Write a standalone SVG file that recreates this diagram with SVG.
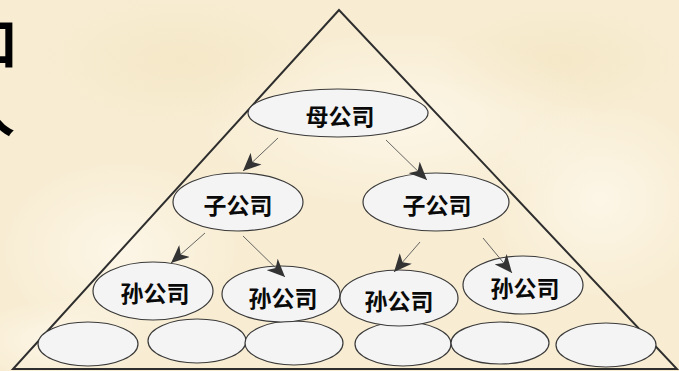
<svg xmlns="http://www.w3.org/2000/svg" width="679" height="371" viewBox="0 0 679 371">
<defs>
<style>
.node ellipse{fill:#f4f4f4;stroke:#3a3a3a;stroke-width:1.2}
.lbl{font-family:"Noto Sans CJK SC","Noto Sans",sans-serif;font-size:23px;fill:#0a0a0a;text-anchor:middle;dominant-baseline:central;font-weight:bold}
.conn line{stroke:#555;stroke-width:0.9;marker-end:url(#ah)}
.frag{font-family:"Noto Sans CJK SC",sans-serif;font-size:54px;font-weight:bold;fill:#000}
</style>
<marker id="ah" markerUnits="userSpaceOnUse" markerWidth="20" markerHeight="16" viewBox="0 0 20 16" refX="18" refY="8" orient="auto">
<path d="M0,0 L18,8 L0,16 L5,8 z" fill="#333"/>
</marker>
<radialGradient id="spot" cx="0.5" cy="0.5" r="0.5">
<stop offset="0" stop-color="#fffaf0" stop-opacity="0.7"/>
<stop offset="1" stop-color="#fffaf0" stop-opacity="0"/>
</radialGradient>
<radialGradient id="dark" cx="0.5" cy="0.5" r="0.5">
<stop offset="0" stop-color="#f0dfb5" stop-opacity="0.35"/>
<stop offset="1" stop-color="#f0dfb5" stop-opacity="0"/>
</radialGradient>
</defs>
<rect width="679" height="371" fill="#f8edd3"/>
<ellipse cx="400" cy="120" rx="200" ry="90" fill="url(#spot)"/>
<ellipse cx="120" cy="250" rx="120" ry="90" fill="url(#spot)"/>
<ellipse cx="600" cy="200" rx="110" ry="100" fill="url(#spot)"/>
<ellipse cx="180" cy="60" rx="150" ry="70" fill="url(#dark)"/>
<ellipse cx="560" cy="60" rx="130" ry="60" fill="url(#dark)"/>
<ellipse cx="60" cy="340" rx="90" ry="40" fill="url(#spot)"/>

<text class="frag" x="-36" y="64">口</text>
<text class="frag" x="-39" y="132">人</text>

<g id="pyramid">
<path d="M339,10 L13,369 L677,369 Z" fill="none" stroke="#2e2e2e" stroke-width="2"/>
</g>

<g id="bottom-row" class="node">
<ellipse cx="88" cy="344" rx="50" ry="22"/>
<ellipse cx="197" cy="341" rx="49" ry="22"/>
<ellipse cx="294" cy="343" rx="49" ry="22"/>
<ellipse cx="403" cy="344" rx="48" ry="22"/>
<ellipse cx="500" cy="343" rx="49" ry="21"/>
<ellipse cx="606" cy="345" rx="50" ry="22"/>
</g>

<g id="parent" class="node">
<ellipse cx="338" cy="113" rx="90" ry="24"/>
<text class="lbl" x="340" y="115">母公司</text>
</g>
<g id="sub-left" class="node">
<ellipse cx="238" cy="202" rx="65" ry="29"/>
<text class="lbl" x="238" y="204">子公司</text>
</g>
<g id="sub-right" class="node">
<ellipse cx="436" cy="202" rx="73" ry="29"/>
<text class="lbl" x="437" y="204">子公司</text>
</g>
<g id="grand-1" class="node">
<ellipse cx="153" cy="291" rx="60" ry="29"/>
<text class="lbl" x="155" y="292">孙公司</text>
</g>
<g id="grand-2" class="node">
<ellipse cx="281" cy="294" rx="59" ry="28"/>
<text class="lbl" x="283" y="297">孙公司</text>
</g>
<g id="grand-3" class="node">
<ellipse cx="399" cy="298" rx="59" ry="28"/>
<text class="lbl" x="399" y="300">孙公司</text>
</g>
<g id="grand-4" class="node">
<ellipse cx="523" cy="285" rx="60" ry="29"/>
<text class="lbl" x="525" y="287">孙公司</text>
</g>

<g id="connectors" class="conn">
<line x1="278" y1="138" x2="243" y2="171"/>
<line x1="386" y1="140" x2="427" y2="180"/>
<line x1="205" y1="233" x2="171" y2="263"/>
<line x1="243" y1="236" x2="285" y2="277"/>
<line x1="420" y1="242" x2="394" y2="272"/>
<line x1="483" y1="238" x2="512" y2="273"/>
</g>
</svg>
